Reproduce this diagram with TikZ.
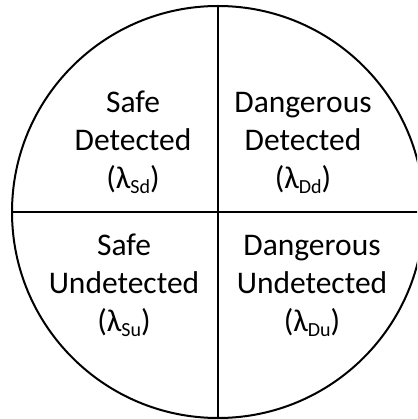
\documentclass[tikz,border=0pt]{standalone}
\usepackage{fontspec}
\setmainfont{Carlito}
\newcommand{\lamsub}[1]{(λ\raisebox{-5pt}{\fontsize{20}{20}\selectfont #1})}
\begin{document}
\begin{tikzpicture}[x=1pt,y=-1pt,
  quad/.style={align=center,inner sep=0pt,anchor=base,font=\fontsize{31.5}{38}\selectfont},
  divider/.style={line width=2.9pt}]
\useasboundingbox (0,0) rectangle (417,419);
\clip (0,0) rectangle (417,419);
\node[circle,draw,line width=2pt,minimum size=412pt,inner sep=0pt] (c) at (218,212) {};
\draw[divider] (c.north) -- (c.south);
\draw[divider] (c.west) -- (c.east);
\node[quad] (sd) at (133,189) {Safe\\Detected\\\lamsub{Sd}};
\node[quad] (dd) at (303,189) {Dangerous\\Detected\\\lamsub{Dd}};
\node[quad] (su) at (124,331) {Safe\\Undetected\\\lamsub{Su}};
\node[quad] (du) at (312,331) {Dangerous\\Undetected\\\lamsub{Du}};
\end{tikzpicture}
\end{document}
